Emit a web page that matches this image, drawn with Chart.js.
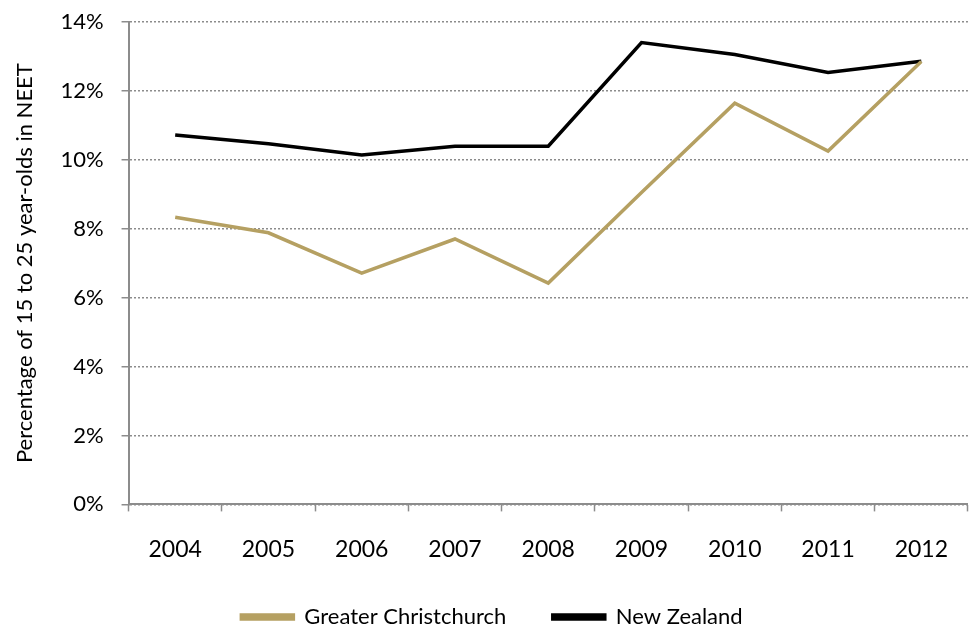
<!DOCTYPE html>
<html>
<head>
<meta charset="utf-8">
<script src="https://cdn.jsdelivr.net/npm/chart.js@4"></script>
<style>
  body { margin: 0; background: #fff; }
  #wrap { width: 972px; height: 626px; }
</style>
</head>
<body>
<div id="wrap"><canvas id="neetChart"></canvas></div>
<script>
// years and NEET rates (%)
const years = ['2004', '2005', '2006', '2007', '2008', '2009', '2010', '2011', '2012'];
const christchurch = [8.33, 7.88, 6.71, 7.70, 6.42, 9.05, 11.64, 10.25, 12.85];
const newZealand = [10.72, 10.46, 10.14, 10.39, 10.39, 13.40, 13.05, 12.53, 12.86];
const yTicks = [0, 2, 4, 6, 8, 10, 12, 14];

const font = 'Lato, "Open Sans", sans-serif';
const gridGrey = '#8c8c8c';

const ctx = document.getElementById('neetChart').getContext('2d');
const neetChart = new Chart(ctx, {
    type: 'line',
    data: {
        labels: years,
        datasets: [{
            label: 'Greater Christchurch',
            data: christchurch,
            borderColor: '#b5a062',
            backgroundColor: '#b5a062',
            borderWidth: 3.5,
            pointRadius: 0,
            tension: 0
        }, {
            label: 'New Zealand',
            data: newZealand,
            borderColor: '#000000',
            backgroundColor: '#000000',
            borderWidth: 3.5,
            pointRadius: 0,
            tension: 0
        }]
    },
    options: {
        responsive: true,
        maintainAspectRatio: false,
        animation: false,
        layout: { padding: { top: 0, right: 0, left: 12, bottom: -12 } },
        scales: {
            x: {
                offset: true,
                grid: {
                    offset: true,
                    drawOnChartArea: false,
                    drawTicks: true,
                    tickLength: 7,
                    tickColor: gridGrey,
                    tickWidth: 1.5
                },
                border: { display: true, color: gridGrey, width: 2 },
                ticks: {
                    color: '#000',
                    padding: 24,
                    maxRotation: 0,
                    font: { family: font, size: 23 }
                }
            },
            y: {
                min: 0,
                max: 14,
                afterBuildTicks: (axis) => { axis.ticks = yTicks.map(v => ({ value: v })); },
                grid: {
                    color: gridGrey,
                    lineWidth: 1.5,
                    tickLength: 7,
                    tickColor: gridGrey,
                    tickWidth: 1.5
                },
                border: { display: true, color: gridGrey, width: 2, dash: [2, 2] },
                ticks: {
                    color: '#000',
                    padding: 18,
                    // small lineHeight keeps the top of the plot close to the 14% label
                    font: { family: font, size: 22, lineHeight: 0.35 },
                    callback: (v) => v + '%'
                },
                title: {
                    display: true,
                    text: 'Percentage of 15 to 25 year-olds in NEET',
                    color: '#000',
                    font: { family: font, size: 22 },
                    padding: { top: 0, bottom: 4 }
                }
            }
        },
        plugins: {
            legend: {
                position: 'bottom',
                labels: {
                    color: '#000',
                    boxWidth: 52,
                    boxHeight: 4,
                    padding: 19,
                    font: { family: font, size: 22 },
                    // widen the gap between the two entries
                    generateLabels: (chart) => {
                        const items = Chart.defaults.plugins.legend.labels.generateLabels(chart);
                        items[0].text = items[0].text + '\u2003\u2002';
                        return items;
                    }
                }
            },
            tooltip: { enabled: false }
        }
    }
});
</script>
</body>
</html>
